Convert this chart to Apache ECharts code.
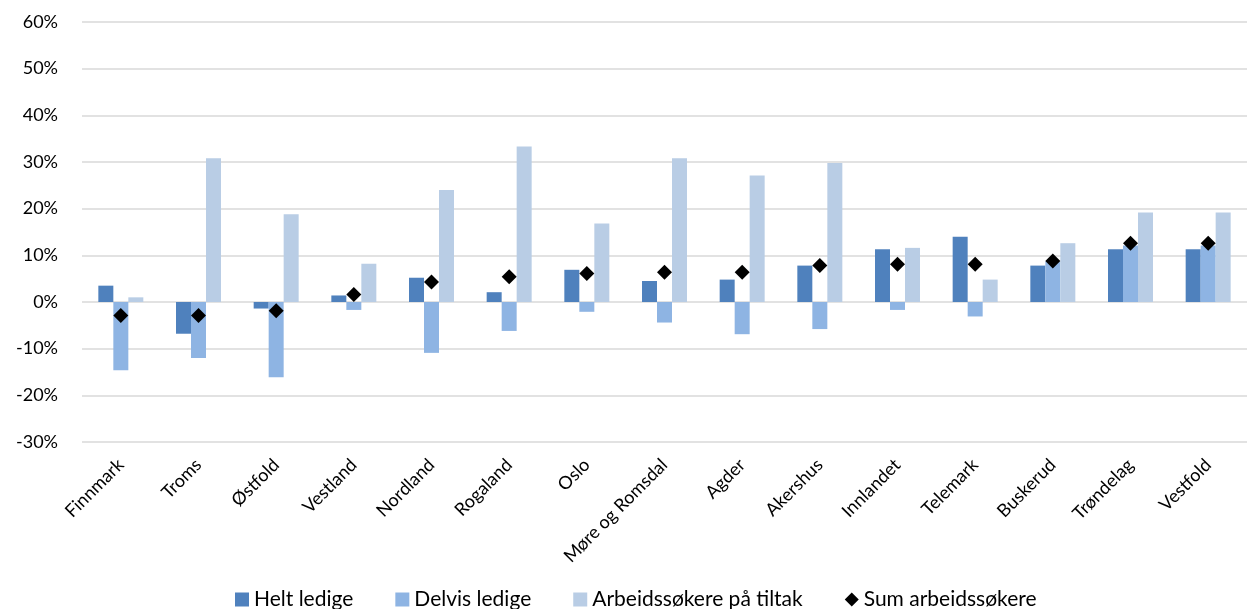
<!DOCTYPE html>
<html>
<head>
<meta charset="utf-8">
<script src="https://cdn.jsdelivr.net/npm/echarts@6/dist/echarts.min.js"></script>
<style>
html,body{margin:0;padding:0;background:#fff;}
#chart{width:1247px;height:609px;}
</style>
</head>
<body>
<div id="chart"></div>
<script>
const categories = ["Finnmark","Troms","Østfold","Vestland","Nordland","Rogaland","Oslo","Møre og Romsdal","Agder","Akershus","Innlandet","Telemark","Buskerud","Trøndelag","Vestfold"];
const heltLedige = [3.5,-6.8,-1.4,1.4,5.2,2.1,6.9,4.5,4.8,7.8,11.3,14.0,7.8,11.3,11.3];
const delvisLedige = [-14.6,-12.0,-16.1,-1.7,-10.9,-6.2,-2.1,-4.4,-6.9,-5.8,-1.7,-3.1,8.7,12.1,12.1];
const arbeidTiltak = [1.0,30.8,18.8,8.2,24.0,33.3,16.8,30.8,27.1,29.8,11.6,4.8,12.6,19.2,19.2];
const sumArbeid = [-2.9,-2.9,-1.9,1.6,4.3,5.4,6.1,6.4,6.4,7.8,8.1,8.1,8.8,12.6,12.6];
const yTicks = {min:-30, max:60, interval:10};

const font = "Lato, 'Open Sans', sans-serif";
const chart = echarts.init(document.getElementById('chart'), null, {renderer:'canvas'});
chart.setOption({
  animation:false,
  backgroundColor:'#fff',
  textStyle:{fontFamily:font},
  grid:{left:82, top:22, width:1171, height:420, containLabel:false},
  legend:{
    top:584, left:230, itemWidth:14, itemHeight:14, itemGap:42,
    textStyle:{fontFamily:font, fontSize:21, color:'#000'},
    data:[
      {name:'Helt ledige', icon:'rect'},
      {name:'Delvis ledige', icon:'rect'},
      {name:'Arbeidssøkere på tiltak', icon:'rect'},
      {name:'Sum arbeidssøkere', icon:'diamond'}
    ]
  },
  xAxis:{
    type:'category', data:categories,
    axisLine:{show:false, onZero:false}, axisTick:{show:false},
    axisLabel:{rotate:45, margin:20, fontSize:18, color:'#000', fontFamily:font, interval:0}
  },
  yAxis:{
    type:'value', min:yTicks.min, max:yTicks.max, interval:yTicks.interval,
    axisLine:{show:false}, axisTick:{show:false},
    axisLabel:{formatter:'{value}%', fontSize:18, color:'#000', margin:24, fontFamily:font},
    splitLine:{lineStyle:{color:'#d9d9d9', width:1.5}}
  },
  series:[
    {name:'Helt ledige', type:'bar', data:heltLedige, barWidth:15, barGap:'0%', itemStyle:{color:'#4f81bd'}},
    {name:'Delvis ledige', type:'bar', data:delvisLedige, barWidth:15, barGap:'0%', itemStyle:{color:'#8eb4e3'}},
    {name:'Arbeidssøkere på tiltak', type:'bar', data:arbeidTiltak, barWidth:15, barGap:'0%', itemStyle:{color:'#b9cde5'}},
    {name:'Sum arbeidssøkere', type:'scatter', data:sumArbeid, symbol:'diamond', symbolSize:15, itemStyle:{color:'#000', opacity:1}, z:5}
  ]
});
</script>
</body>
</html>
